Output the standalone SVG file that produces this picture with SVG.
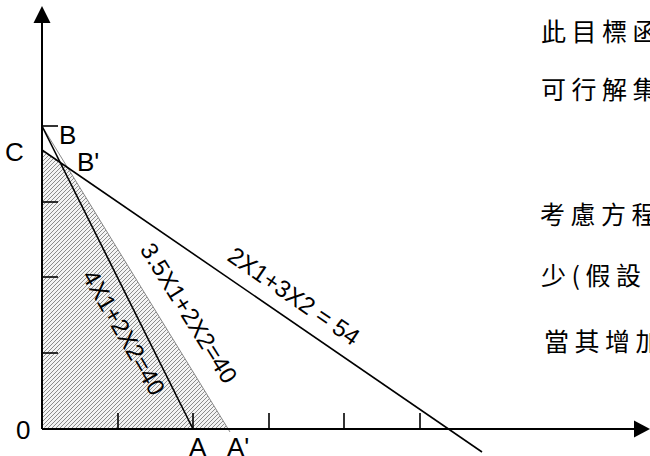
<svg xmlns="http://www.w3.org/2000/svg" width="650" height="456" viewBox="0 0 650 456">
<style>
.axis{stroke:#000;stroke-width:2;fill:none}
.ln{stroke:#000;stroke-width:1.6;fill:none}
.tick{stroke:#000;stroke-width:1.6}
.lbl{font-family:"Liberation Sans",Arial,sans-serif;font-size:26px;fill:#000}
.eq{font-family:"Liberation Sans",Arial,sans-serif;font-size:24px;fill:#000}
.cjk{font-family:"Noto Sans CJK TC","Noto Sans CJK SC",sans-serif;font-size:25px;letter-spacing:5.5px;fill:#000}
</style>
<defs>
<pattern id="hatch" width="4" height="4" patternUnits="userSpaceOnUse">
<rect width="4" height="4" fill="#f4f4f4"/>
<path d="M-1,1 L1,-1 M0,4 L4,0 M3,5 L5,3" stroke="#444" stroke-width="0.6"/>
</pattern>
</defs>
<g id="region">
<path d="M41,150 L67.5,167.5 L228,429 L50,429 Q41,429 41,420 Z" fill="url(#hatch)"/>
<line x1="42" y1="126" x2="230" y2="432" stroke="#888" stroke-width="1"/>
</g>
<g id="connectors">
<line class="ln" x1="42" y1="126" x2="193" y2="429"/>
<line class="ln" x1="42" y1="150" x2="482" y2="452"/>
</g>
<g id="axes">
<line class="axis" x1="42" y1="429" x2="42" y2="22"/>
<path d="M42,6 L50.5,23 L33.5,23 Z" fill="#000"/>
<line class="axis" x1="42" y1="429" x2="635" y2="429"/>
<path d="M650,429 L634,420.5 L634,437.5 Z" fill="#000"/>
<line class="tick" x1="42" y1="126" x2="58" y2="126"/>
<line class="tick" x1="42" y1="202" x2="58" y2="202"/>
<line class="tick" x1="42" y1="277" x2="58" y2="277"/>
<line class="tick" x1="42" y1="353" x2="58" y2="353"/>
<line class="tick" x1="118" y1="413" x2="118" y2="429"/>
<line class="tick" x1="193" y1="413" x2="193" y2="429"/>
<line class="tick" x1="269" y1="413" x2="269" y2="429"/>
<line class="tick" x1="344" y1="413" x2="344" y2="429"/>
<line class="tick" x1="420" y1="413" x2="420" y2="429"/>
</g>
<g id="labels">
<text class="lbl" x="59" y="144">B</text>
<text class="lbl" x="77" y="171">B'</text>
<text class="lbl" x="5" y="161">C</text>
<text class="lbl" x="16" y="439">0</text>
<text class="lbl" x="189" y="456">A</text>
<text class="lbl" x="227" y="456">A'</text>
</g>
<g id="equations">
<text class="eq" text-anchor="middle" transform="translate(124,332.5) rotate(60)" y="8.5">4X1+2X2=40</text>
<text class="eq" text-anchor="middle" transform="translate(189,313) rotate(58)" y="8.5">3.5X1+2X2=40</text>
<text class="eq" text-anchor="middle" transform="translate(294,296) rotate(34.5)" y="8.5">2X1+3X2 = 54</text>
</g>
<g id="notes">
<text class="cjk" x="541" y="41">此目標函</text>
<text class="cjk" x="541" y="99">可行解集</text>
<text class="cjk" x="540" y="224">考慮方程</text>
<text class="cjk" x="541" y="285">少(假設</text>
<text class="cjk" x="544" y="351">當其增加</text>
</g>
</svg>
